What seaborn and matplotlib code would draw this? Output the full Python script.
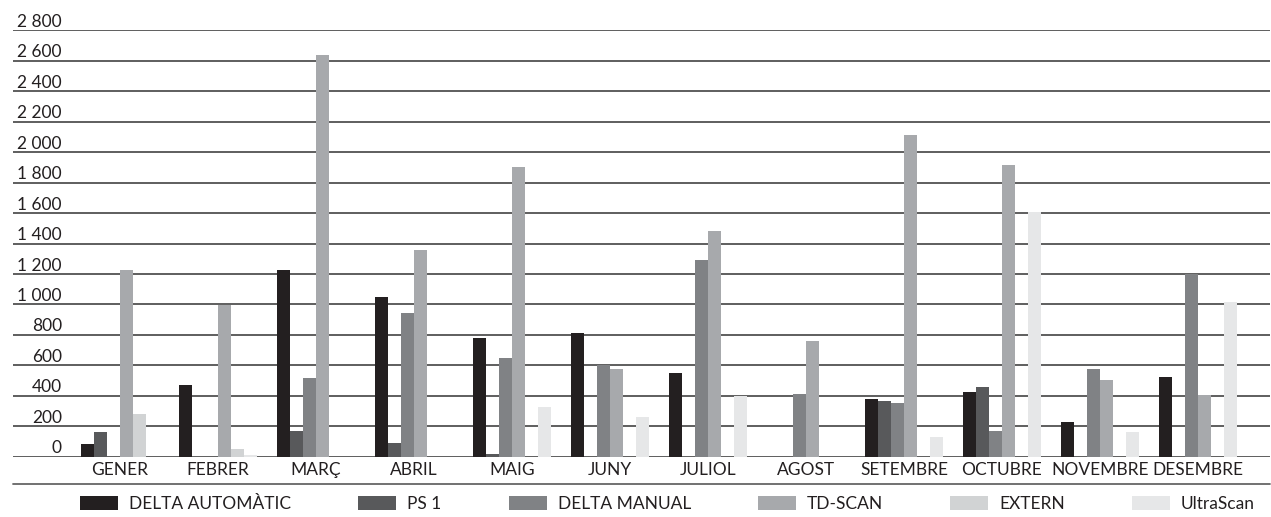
import pandas as pd
import numpy as np
import matplotlib.pyplot as plt
import seaborn as sns
from matplotlib.lines import Line2D

# --- 1. DATA ---
months = ['GENER', 'FEBRER', 'MARÇ', 'ABRIL', 'MAIG', 'JUNY',
          'JULIOL', 'AGOST', 'SETEMBRE', 'OCTUBRE', 'NOVEMBRE', 'DESEMBRE']
series = ['DELTA AUTOMÀTIC', 'PS 1', 'DELTA MANUAL', 'TD-SCAN', 'EXTERN', 'UltraScan']

delta_automatic = [83, 471, 1226, 1051, 780, 814, 549, 0, 379, 425, 228, 523]
ps1 = [162, 0, 169, 88, 18, 0, 0, 0, 366, 458, 0, 0]
delta_manual = [0, 0, 517, 946, 648, 603, 1292, 412, 353, 169, 577, 1200]
td_scan = [1226, 996, 2638, 1357, 1902, 577, 1482, 760, 2112, 1915, 504, 405]
extern = [280, 50, 0, 0, 0, 0, 0, 0, 0, 0, 0, 0]
ultrascan = [0, 12, 0, 0, 326, 261, 399, 0, 129, 1607, 162, 1016]

y_ticks = list(range(0, 2801, 200))

colors = ['#231f20', '#58595b', '#808285', '#a7a9ac', '#d1d3d4', '#e6e7e8']

# long-form table for seaborn
values = [delta_automatic, ps1, delta_manual, td_scan, extern, ultrascan]
df = pd.DataFrame({
    'mes': months * len(series),
    'serie': [s for s in series for _ in months],
    'valor': [v for vals in values for v in vals],
})

# --- 2. PLOTTING SETUP ---
sns.set_style('white')
plt.rcParams['font.family'] = ['Lato', 'DejaVu Sans']
FS = 12.5

W, H = 1271, 517
fig = plt.figure(figsize=(W / 100, H / 100), dpi=100)
ax = fig.add_axes([13 / W, (H - 456.7) / H, (1270 - 13) / W, (456.7 - 30.4) / H])

sns.barplot(data=df, x='mes', y='valor', hue='serie', order=months, hue_order=series,
            palette=colors, saturation=1, width=0.8, linewidth=0, ax=ax)

# category 0 centre at 120 px, 98 px per category
ax.set_xlim((13 - 120) / 98, (1270 - 120) / 98)
ax.set_ylim(0, 2800)
ax.set_axisbelow(True)
ax.set_yticks(y_ticks)
ax.yaxis.grid(True, color='#333333', linewidth=1.1)
ax.xaxis.grid(False)
ax.tick_params(axis='y', length=0, labelleft=False)
ax.tick_params(axis='x', length=0, pad=4, labelsize=FS, labelcolor='#231f20')
ax.set_xlabel('')
ax.set_ylabel('')
sns.despine(ax=ax, left=True, bottom=True)

# tick labels sit above each grid line
x_lab = (62 - 120) / 98
for t in y_ticks:
    ax.annotate(f'{t:,}'.replace(',', ' '), xy=(x_lab, t), xytext=(0, 2.5),
                textcoords='offset points', ha='right', va='baseline',
                fontsize=FS, color='#231f20')

# separator above the legend
fig.add_artist(Line2D([13 / W, 1270 / W], [(H - 484) / H] * 2, color='#666666', linewidth=1.3))

# --- 3. LEGEND ---
handles, labels = ax.get_legend_handles_labels()
ax.get_legend().remove()
fs_px = FS * 100 / 72
fig.legend(handles, labels, loc='center', bbox_to_anchor=(0.5 + 32 / W, (H - 504) / H), ncol=6,
           frameon=False, fontsize=FS, handlelength=38 / fs_px, handleheight=15 / fs_px,
           handletextpad=11 / fs_px, columnspacing=67 / fs_px, borderpad=0,
           labelcolor='#231f20')

# --- 4. SAVE ---
plt.savefig('out.png', dpi=100)
